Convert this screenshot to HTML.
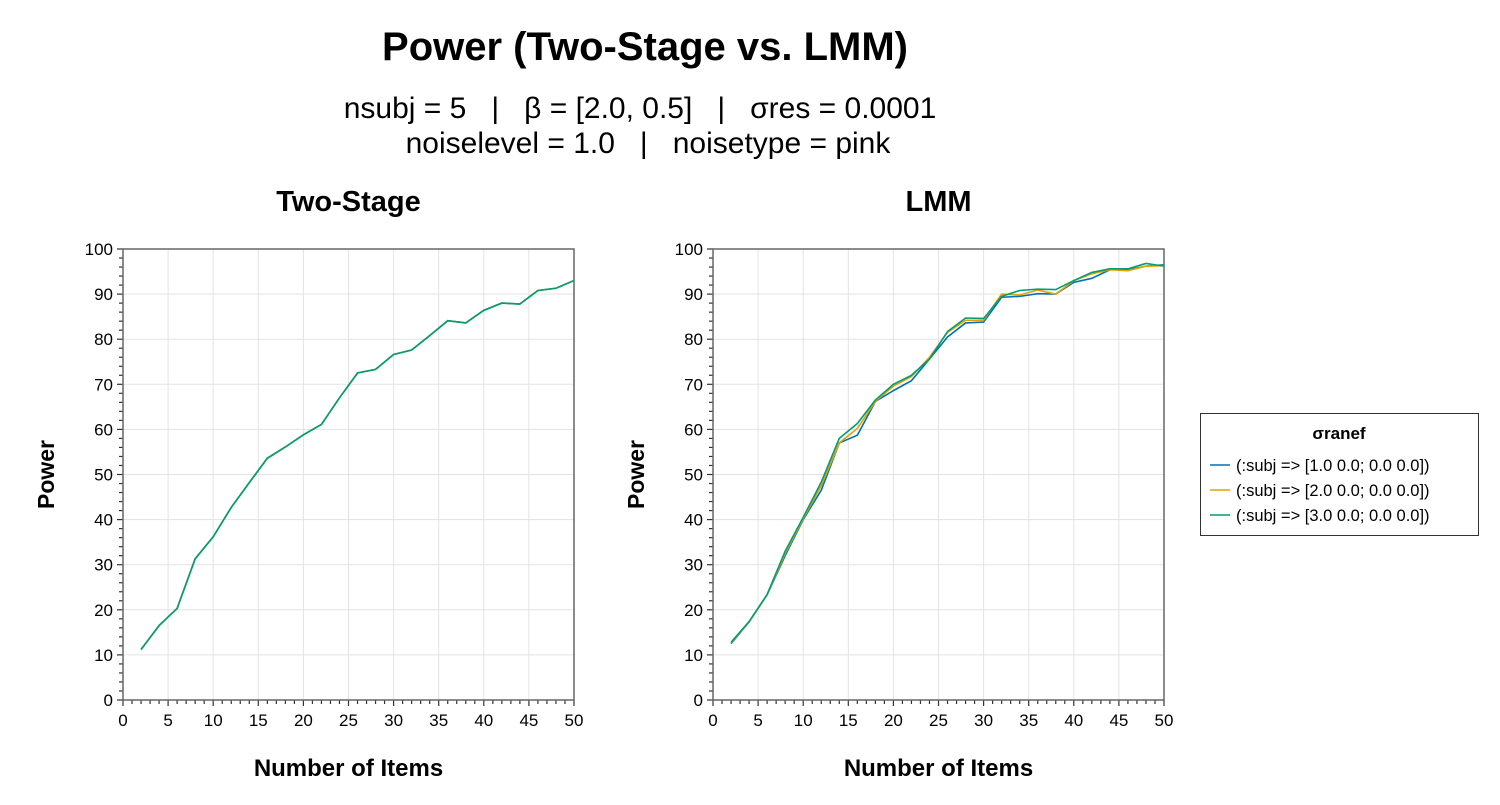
<!DOCTYPE html>
<html><head><meta charset="utf-8"><style>
body{margin:0;background:#fff;}
svg text{font-family:"Liberation Sans",sans-serif;fill:#000;white-space:pre;}
</style></head><body>
<svg id="fig" width="1500" height="800" xmlns="http://www.w3.org/2000/svg">
<text x="645" y="60" font-size="40" font-weight="bold" text-anchor="middle">Power (Two-Stage vs. LMM)</text>
<text x="640" y="118" font-size="30" text-anchor="middle" xml:space="preserve">nsubj = 5   |   β = [2.0, 0.5]   |   σres = 0.0001</text>
<text x="648" y="153" font-size="30" text-anchor="middle" xml:space="preserve">noiselevel = 1.0   |   noisetype = pink</text>
<g id="legend">
<rect x="1200.5" y="413.5" width="278" height="122" fill="#fff" stroke="#333" stroke-width="1"/>
<text x="1339" y="439" font-size="17" font-weight="bold" text-anchor="middle">σranef</text>
</g>
</svg>
<script>
const xs = [2,4,6,8,10,12,14,16,18,20,22,24,26,28,30,32,34,36,38,40,42,44,46,48,50];
const twoStage = [11.2,16.5,20.3,31.3,36.2,42.7,48.2,53.6,56.1,58.8,61.1,67,72.5,73.3,76.6,77.6,80.8,84.1,83.6,86.4,88,87.8,90.8,91.3,93];
const lmm1 = [12.5,17.3,23.3,32,40,46.5,57,58.7,66.2,68.6,70.8,75.6,80.5,83.6,83.8,89.3,89.5,90.1,90,92.6,93.5,95.4,95.4,96.2,96.5];
const lmm2 = [12.7,17.3,23.3,32.5,40.2,47.5,57,60.2,66.2,69.6,71.7,76,81.5,84.2,84.2,90,89.8,90.9,90,93,94.5,95.4,95.2,96.2,96.3];
const lmm3 = [12.8,17.4,23.4,33,40.5,48.3,58,61.3,66.5,70,72,75.6,81.7,84.7,84.6,89.5,90.8,91.1,91,93,94.8,95.6,95.6,96.8,96.2];
const xTicks = [0,5,10,15,20,25,30,35,40,45,50];
const yTicks = [0,10,20,30,40,50,60,70,80,90,100];
const legendLabels = ["(:subj => [1.0 0.0; 0.0 0.0])","(:subj => [2.0 0.0; 0.0 0.0])","(:subj => [3.0 0.0; 0.0 0.0])"];
const colors = ["#0072B2","#E69F00","#009E73"];

const NS="http://www.w3.org/2000/svg";
const svg=document.getElementById('fig');
function mk(tag,attrs,parent){const e=document.createElementNS(NS,tag);for(const k in attrs)e.setAttribute(k,attrs[k]);(parent||svg).appendChild(e);return e;}

function panel(x0,title,series,key){
  const x1=x0+451, yTop=249, yBot=700;
  const sx=v=>x0+(v/50)*(x1-x0);
  const sy=v=>yBot-(v/100)*(yBot-yTop);
  const g=mk('g',{});
  
  
  xTicks.forEach(t=>{const l=mk('line',{x1:sx(t),x2:sx(t),y1:yTop,y2:yBot,stroke:'#e3e3e3','stroke-width':1},g);
    });
  yTicks.forEach(t=>{const l=mk('line',{x1:x0,x2:x1,y1:sy(t),y2:sy(t),stroke:'#e3e3e3','stroke-width':1},g);
    });
  for(let v=0;v<=50;v++){const l=mk('line',{x1:sx(v),x2:sx(v),y1:yBot,y2:yBot+(v%5==0?6:4),stroke:'#333','stroke-width':1.2},g);
    }
  for(let v=0;v<=100;v+=2){const l=mk('line',{x1:x0,x2:x0-(v%10==0?6:4),y1:sy(v),y2:sy(v),stroke:'#333','stroke-width':1.2},g);
    }
  const fr=mk('rect',{x:x0,y:yTop,width:x1-x0,height:yBot-yTop,fill:'none',stroke:'#666','stroke-width':1.5},g);
  
  xTicks.forEach(t=>{const e=mk('text',{x:sx(t),y:yBot+26,'font-size':17,'text-anchor':'middle'},g);e.textContent=t;
    });
  yTicks.forEach(t=>{const e=mk('text',{x:x0-10,y:sy(t)+6,'font-size':17,'text-anchor':'end'},g);e.textContent=t;
    });
  series.forEach((s,i)=>{const p=mk('polyline',{points:xs.map((x,j)=>sx(x)+','+sy(s.vals[j])).join(' '),fill:'none',stroke:s.color,'stroke-width':1.6},g);
    });
  const t=mk('text',{x:(x0+x1)/2,y:211,'font-size':29,'font-weight':'bold','text-anchor':'middle'},g);t.textContent=title;
  
  const xl=mk('text',{x:(x0+x1)/2,y:776,'font-size':24,'font-weight':'bold','text-anchor':'middle'},g);xl.textContent='Number of Items';
  
  const yl=mk('text',{x:0,y:0,'font-size':23,'font-weight':'bold','text-anchor':'middle',transform:`translate(${x0-69},${(yTop+yBot)/2}) rotate(-90)`},g);yl.textContent='Power';
  
}
panel(123,'Two-Stage',[{vals:twoStage,color:'#0072B2'},{vals:twoStage,color:'#E69F00'},{vals:twoStage,color:'#009E73'}],'two-stage');
panel(713,'LMM',[{vals:lmm1,color:colors[0]},{vals:lmm2,color:colors[1]},{vals:lmm3,color:colors[2]}],'lmm');

const lg=document.getElementById('legend');
legendLabels.forEach((lab,i)=>{const y=465+i*25;
  const l=mk('line',{x1:1210,x2:1230,y1:y,y2:y,stroke:colors[i],'stroke-width':1.6},lg);
  
  const t=mk('text',{x:1236,y:y+6,'font-size':16.5},lg);t.textContent=lab;
  });
</script>
</body></html>
